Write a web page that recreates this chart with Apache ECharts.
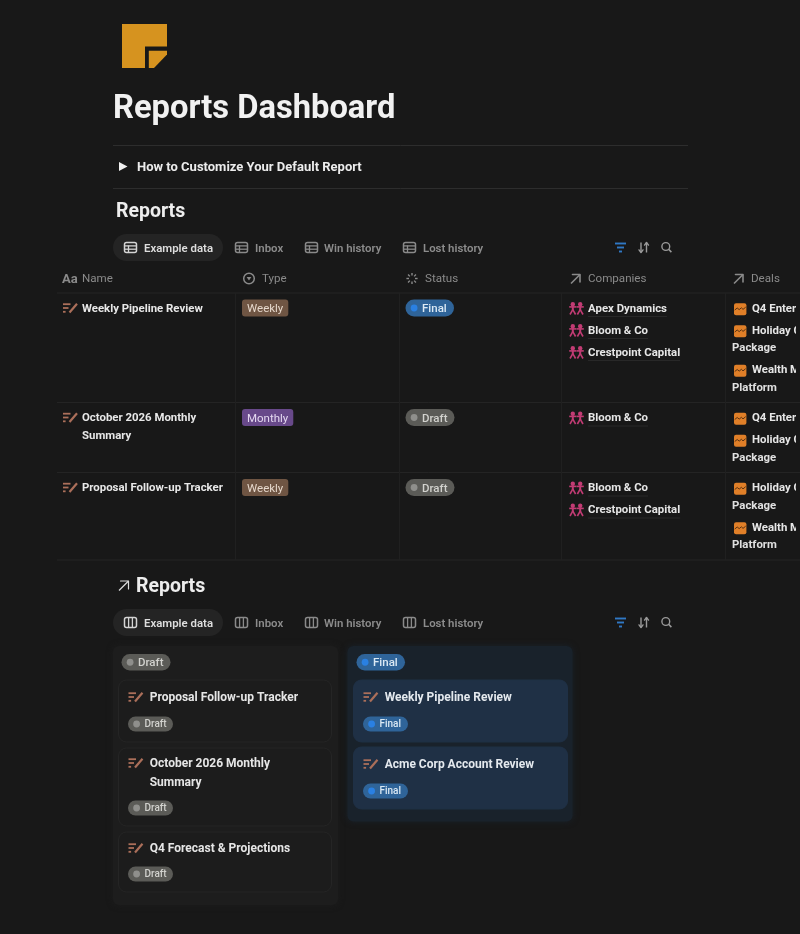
<!DOCTYPE html>
<html><head><meta charset="utf-8">
<style>html,body{margin:0;padding:0;background:#181818;overflow:hidden}#c{width:800px;height:934px;filter:blur(0.5px)}</style>
<script src="https://cdn.jsdelivr.net/npm/echarts@6/dist/echarts.min.js"></script>
</head><body><div id="c"></div>
<script>
const pageTitle='Reports Dashboard';
const toggleText='How to Customize Your Default Report';
const sectionTitle='Reports';
const tabNames=['Example data','Inbox','Win history','Lost history'];
const columnNames=['Name','Type','Status','Companies','Deals'];
const reportNames=[['Weekly Pipeline Review'],['October 2026 Monthly','Summary'],['Proposal Follow-up Tracker']];
const reportTypes=['Weekly','Monthly','Weekly'];
const reportStatuses=['Final','Draft','Draft'];
const reportCompanies=[['Apex Dynamics','Bloom & Co','Crestpoint Capital'],['Bloom & Co'],['Bloom & Co','Crestpoint Capital']];
const reportDeals=[[['Q4 Enter'],['Holiday C','Package'],['Wealth M','Platform']],[['Q4 Enter'],['Holiday C','Package']],[['Holiday C','Package'],['Wealth M','Platform']]];
const draftCards=[['Proposal Follow-up Tracker'],['October 2026 Monthly','Summary'],['Q4 Forecast & Projections']];
const finalCards=[['Weekly Pipeline Review'],['Acme Corp Account Review']];

const BG='#181818',FONT='Roboto';
const G=[];
const measure=document.createElement('canvas').getContext('2d');
function tw(s,size,w){measure.font=w+' '+size+'px '+FONT;return measure.measureText(s).width;}
function T(x,y,s,size,weight,color){G.push({type:'text',x:x,y:y+1,silent:true,style:{text:s,font:weight+' '+size+'px '+FONT,fill:color,textAlign:'left',textVerticalAlign:'middle'}});}
function R(x,y,w,h,r,fill,stroke,extra){G.push({type:'rect',silent:true,shape:{x:x,y:y,width:w,height:h,r:r||0},style:Object.assign({fill:fill||'none',stroke:stroke||'none',lineWidth:1},extra||{})});}
function L(x1,y1,x2,y2,c,w){G.push({type:'line',silent:true,shape:{x1:x1,y1:y1,x2:x2,y2:y2},style:{stroke:c,lineWidth:w||1}});}
function PL(pts,c,w){G.push({type:'polyline',silent:true,shape:{points:pts},style:{stroke:c,lineWidth:w||1,fill:'none',lineCap:'round',lineJoin:'round'}});}
function PG(pts,c){G.push({type:'polygon',silent:true,shape:{points:pts},style:{fill:c}});}
function C(x,y,r,fill,stroke,w){G.push({type:'circle',silent:true,shape:{cx:x,cy:y,r:r},style:{fill:fill||'none',stroke:stroke||'none',lineWidth:w||1}});}

function tableIcon(x,y,c){y-=.5;R(x+.5,y-5,12,10,2,'none',c,{lineWidth:1.5});L(x,y-1.6,x+13,y-1.6,c,1.3);L(x,y+1.7,x+13,y+1.7,c,1.3);L(x+4.5,y-2,x+4.5,y+5,c,1.3);}
function boardIcon(x,y,c){y-=.5;R(x+.5,y-5,12,10,2,'none',c,{lineWidth:1.5});L(x+4.6,y-5,x+4.6,y+5,c,1.3);L(x+8.4,y-5,x+8.4,y+5,c,1.3);}
function docIcon(x,y){const c='#ab6f5a';L(x,y-3.8,x+7.5,y-3.8,c,1.8);L(x,y,x+5.5,y,c,1.8);L(x,y+3.8,x+2.6,y+3.8,c,1.8);L(x+6.5,y+4.5,x+14,y-4.2,c,2.2);}
function arrowIcon(x,y,s,c,w){L(x,y+s,x+s,y,c,w);PL([[x+1.5,y],[x+s,y],[x+s,y+s-1.5]],c,w);}
function peopleIcon(x,y){const c='#c23c74';[x+3.8,x+11.2].forEach(p=>{C(p,y-4.2,2.2,c);L(p,y-2.4,p,y+2,c,2);L(p-3.6,y-1.6,p+3.6,y-1.6,c,1.6);L(p,y+1.2,p-2.8,y+6,c,1.6);L(p,y+1.2,p+2.8,y+6,c,1.6);});}
function dealIcon(x,y){R(x,y-5.8,12.4,12,2,'#e07f28');PL([[x+1,y+.8],[x+3.2,y-1],[x+5.2,y+.6],[x+7.4,y-1.2],[x+9,y+.4],[x+11.4,y-1.6]],'#5a3210',1);}
function statusTag(x,y,w,h,status,size,textX,dy){const f=status==='Final';R(x,y,w,h,h/2,f?'#2f6499':'#5b5b57');C(x+8.6,y+h/2,3.4,f?'#2a80e2':'#8f8f8c');T(textX,y+h/2+dy,status,size,500,f?'#dbe9f4':'#d2d2ce');}
function toolbar(y,icon){
  const tabIcons=[124,235,305,403],tabText=[144,255,324,423];
  R(113,y-14,110,27,13.5,'#242424');
  tabNames.forEach((t,i)=>{const c=i===0?'#d4d4d4':'#8a8a8a';icon(tabIcons[i],y,c);T(tabText[i],y+.5,t,11.4,600,i===0?'#dedede':'#8c8c8c');});
  const b='#2f78c4';y-=.5;L(615,y-4,626,y-4,b,1.9);L(617,y,624,y,b,1.9);L(619,y+4,622,y+4,b,1.9);
  const g='#9a9a9a';L(641,y-5,641,y+5,g,1.4);PL([[639,y+2.4],[641,y+5],[643,y+2.4]],g,1.4);L(646.5,y-5,646.5,y+5,g,1.4);PL([[644.5,y-2.4],[646.5,y-5],[648.5,y-2.4]],g,1.4);
  C(665.8,y-1,3.9,'none',g,1.4);L(668.6,y+1.8,671.4,y+4.6,g,1.6);
}

// header
PG([[122,24],[167,24],[167,46.6],[145,46.6],[145,68],[122,68]],'#d6931f');
PG([[148.8,50.7],[167,50.7],[167,54.5],[154,68],[148.8,68]],'#d6931f');
T(113,109,pageTitle,32.7,700,'#f1f1f1');
L(113,145.5,688,145.5,'#2d2d2d');L(113,188.5,688,188.5,'#2d2d2d');
PG([[119,162],[127.5,166.5],[119,171]],'#f0f0f0');
T(137,167,toggleText,13,700,'#ececec');
T(116,211,sectionTitle,19.5,700,'#ededed');
toolbar(248,tableIcon);

// table header
const hc='#8a8a8a';
const headX=[82,262,425,588,751];
T(62,278.5,'Aa',13,700,hc);
columnNames.forEach((n,i)=>T(headX[i],278.5,n,11.6,400,hc));
C(249,278.5,5.3,'none',hc,1.5);PG([[246.6,277],[251.4,277],[249,280.6]],hc);
for(let a=0;a<8;a++){const t=a*Math.PI/4,c=Math.cos(t),s=Math.sin(t);L(412+3*c,278.5+3*s,412+5.6*c,278.5+5.6*s,hc,1.4);}
arrowIcon(571,274.5,9,hc,1.6);arrowIcon(734,274.5,9,hc,1.6);

// table grid
const line='#242424';
[293,402.5,472.5,560].forEach(y=>L(57,y,800,y,line));
[235.5,399.5,561.5,725.5].forEach(x=>L(x,293,x,560,'#202020'));

// table rows
const rowTop=[308,417.5,487.5];
const typeFill={Weekly:'#6f5543',Monthly:'#68498a'},typeText={Weekly:'#e6d8cc',Monthly:'#e4d8f0'};
reportNames.forEach((lines,r)=>{
  const y=rowTop[r];
  docIcon(63,y);
  lines.forEach((s,i)=>T(82,y+i*17.5,s,11.4,700,'#e8e8e8'));
  const ty=reportTypes[r],tyW=tw(ty,11.5,400)+10;
  R(242,y-8.5,tyW,17,3,typeFill[ty]);T(247,y+.5,ty,11.5,400,typeText[ty]);
  statusTag(405.5,y-8.5,reportStatuses[r]==='Final'?48.5:49,17,reportStatuses[r],11.5,422,.5);
  reportCompanies[r].forEach((s,i)=>{const cy=y+i*22;peopleIcon(569,cy+.5);T(588,cy,s,11.4,700,'#e6e6e6');L(588,cy+8.5,588+tw(s,11.4,700),cy+8.5,'#282828');});
  let dy=y;
  reportDeals[r].forEach(d=>{dealIcon(734,dy+1);T(752,dy,d[0],11.4,700,'#e6e6e6');
    if(d[1]){T(732,dy+17.5,d[1],11.4,700,'#e0e0e0');dy+=17.5;}
    dy+=22;});
});
R(796,295,4,264,0,BG);
[402.5,472.5].forEach(y=>L(796,y,800,y,line));

// board section
arrowIcon(119,581,9.5,'#dcdcdc',1.2);
T(136,586.5,sectionTitle,19.5,700,'#ededed');
toolbar(623,boardIcon);

function card(x,y,w,h,titleOffset,lines,status,final){
  R(x,y,w,h,8,final?'#1f3045':'#1c1c1c',final?'#1f3045':'#252525');
  docIcon(x+10,y+titleOffset);
  lines.forEach((s,i)=>T(x+31.2,y+titleOffset+i*18.6,s,12,700,final?'#e4e9ee':'#e6e6e6'));
  statusTag(x+9.5,y+h-25.5,45,15,status,10,x+26,-.5);
}
R(113,646,225,259,6,'#1d1d1d',null,{shadowBlur:6,shadowColor:'#1d1d1d'});
statusTag(121.5,654,49,16.5,'Draft',11.5,138,0);
const draftY=[680,748,832],draftH=[62,78,60],draftTitle=[17,15,16];
draftCards.forEach((c,i)=>card(118.5,draftY[i],213,draftH[i],draftTitle[i],c,'Draft',false));
R(347.5,646,225,175.5,6,'#19222b',null,{shadowBlur:6,shadowColor:'#19222b'});
statusTag(356.5,654,48.5,16.5,'Final',11.5,373,0);
const finalY=[680,747];
finalCards.forEach((c,i)=>card(353.5,finalY[i],214,62,17,c,'Final',true));

const chart=echarts.init(document.getElementById('c'),null,{renderer:'canvas',width:800,height:934});
chart.setOption({backgroundColor:BG,animation:false,graphic:{elements:G}});
</script></body></html>
